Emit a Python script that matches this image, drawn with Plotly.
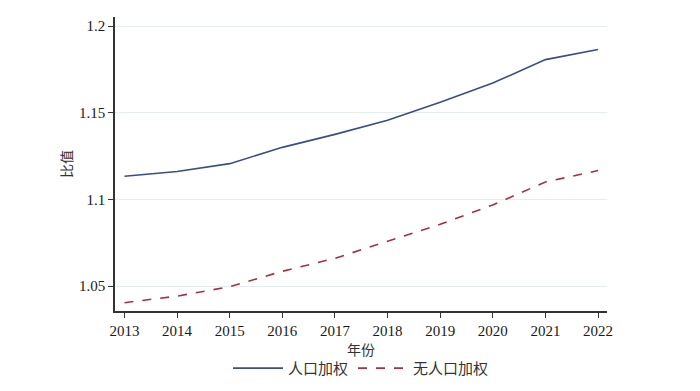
import plotly.graph_objects as go

years = [2013, 2014, 2015, 2016, 2017, 2018, 2019, 2020, 2021, 2022]
weighted = [1.1133, 1.1161, 1.1206, 1.1300, 1.1375, 1.1456, 1.1560, 1.1671, 1.1806, 1.1865]
unweighted = [1.0404, 1.0442, 1.0496, 1.0585, 1.0660, 1.0758, 1.0856, 1.0968, 1.1100, 1.1166]
y_ticks = [1.05, 1.1, 1.15, 1.2]
y_tick_labels = ["1.05", "1.1", "1.15", "1.2"]

serif = "Liberation Serif, Times New Roman, serif"
cjk = "Noto Sans CJK SC"

fig = go.Figure()
fig.add_trace(go.Scatter(x=years, y=weighted, mode="lines", name="人口加权",
                         line=dict(color="#3b4c86", width=1.6)))
fig.add_trace(go.Scatter(x=years, y=unweighted, mode="lines", name="无人口加权",
                         line=dict(color="#a6303f", width=1.6, dash="dash")))

fig.update_layout(
    width=700, height=391,
    margin=dict(l=107, r=101, t=9, b=88, autoexpand=False),
    plot_bgcolor="white", paper_bgcolor="white",
    font=dict(family=serif, size=15, color="#1a1a1a"),
    legend=dict(orientation="h", x=0.5, xanchor="center", y=-0.195, yanchor="middle",
                font=dict(family=cjk, size=15, color="#333"),
                itemwidth=50, tracegroupgap=0),
    showlegend=True,
)
fig.update_xaxes(
    range=[2012.82, 2022.17], tickvals=years, ticktext=[str(y) for y in years],
    showline=True, linecolor="#333", linewidth=1.5,
    ticks="outside", ticklen=5, tickcolor="#333",
    showgrid=False, zeroline=False,
    tickfont=dict(family=serif, size=15, color="#1a1a1a"),
    title=dict(text="年份", font=dict(family=cjk, size=14, color="#333"), standoff=2),
)
fig.update_yaxes(
    range=[1.0356, 1.2052], tickvals=y_ticks, ticktext=y_tick_labels,
    showline=True, linecolor="#333", linewidth=1.5,
    ticks="outside", ticklen=5, tickcolor="#333",
    showgrid=True, gridcolor="#e4eeef", gridwidth=1, zeroline=False,
    tickfont=dict(family=serif, size=15, color="#1a1a1a"),
    title=dict(text="比值", font=dict(family=cjk, size=14, color="#333"), standoff=3),
)

fig.write_html("out.html")
